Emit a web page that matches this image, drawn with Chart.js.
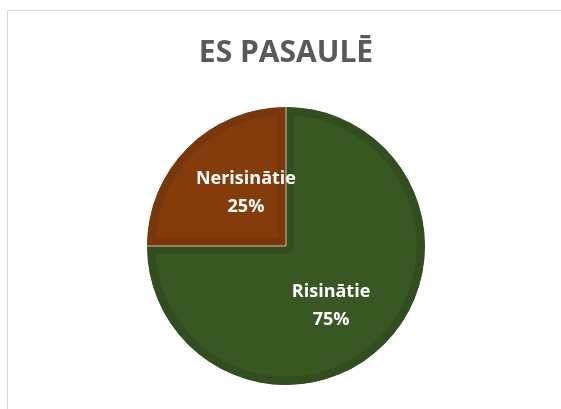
<!DOCTYPE html>
<html>
<head>
<meta charset="utf-8">
<script src="https://cdn.jsdelivr.net/npm/chart.js@4"></script>
<style>
  html, body { margin: 0; padding: 0; background: #fff; }
  #wrap { position: relative; width: 561px; height: 409px; overflow: hidden; }
  #frame { position: absolute; left: 7px; top: 10px; width: 600px; height: 420px; border: 1px solid #d9d9d9; box-sizing: border-box; }
  #pieChart { position: absolute; left: 0; top: 0; }
</style>
</head>
<body>
<div id="wrap">
  <div id="frame"></div>
  <canvas id="pieChart" width="561" height="409"></canvas>
</div>
<script>
// datos del gráfico
const categorias = ['Risinātie', 'Nerisinātie'];
const valores = [75, 25];
const colores = ['#385723', '#843c0c'];
const coloresBorde = ['#324e20', '#79370d'];

// posición de las etiquetas relativa al centro del sector (ajuste fino tipo Excel)
const ajusteEtiquetas = [[-9, 6], [14, 1]];

const etiquetasSector = {
    id: 'etiquetasSector',
    afterDatasetsDraw(chart) {
        const ctx = chart.ctx;
        const meta = chart.getDatasetMeta(0);
        const total = valores.reduce((a, b) => a + b, 0);
        ctx.save();
        // líneas finas de separación entre sectores
        meta.data.forEach(arc => {
            ctx.strokeStyle = 'rgba(235,225,205,0.8)';
            ctx.lineWidth = 1;
            ctx.beginPath();
            ctx.moveTo(arc.x, arc.y);
            ctx.lineTo(arc.x + Math.cos(arc.startAngle) * arc.outerRadius, arc.y + Math.sin(arc.startAngle) * arc.outerRadius);
            ctx.stroke();
        });
        ctx.fillStyle = '#ffffff';
        ctx.font = 'bold 18px "Open Sans", sans-serif';
        ctx.textAlign = 'center';
        ctx.textBaseline = 'middle';
        meta.data.forEach((arc, i) => {
            const medio = (arc.startAngle + arc.endAngle) / 2;
            const r = arc.outerRadius * 0.55;
            const x = arc.x + Math.cos(medio) * r + ajusteEtiquetas[i][0];
            const y = arc.y + Math.sin(medio) * r + ajusteEtiquetas[i][1];
            const pct = Math.round(valores[i] / total * 100) + '%';
            ctx.fillText(categorias[i], x, y - 14);
            ctx.fillText(pct, x, y + 14);
        });
        ctx.restore();
    }
};

const ctxPie = document.getElementById('pieChart').getContext('2d');
window.graficoPie = new Chart(ctxPie, {
    type: 'pie',
    data: {
        labels: categorias,
        datasets: [{
            data: valores,
            backgroundColor: colores,
            borderColor: coloresBorde,
            borderWidth: 8,
            borderAlign: 'inner'
        }]
    },
    options: {
        responsive: false,
        animation: false,
        layout: { padding: { left: 11, top: 0, bottom: 24 } },
        plugins: {
            legend: { display: false },
            tooltip: { enabled: false },
            title: {
                display: true,
                text: 'ES PASAULĒ',
                color: '#595959',
                font: { family: '"Open Sans", sans-serif', size: 30, weight: 'bold' },
                padding: { top: 35, bottom: 36 }
            }
        }
    },
    plugins: [etiquetasSector]
});
</script>
</body>
</html>
